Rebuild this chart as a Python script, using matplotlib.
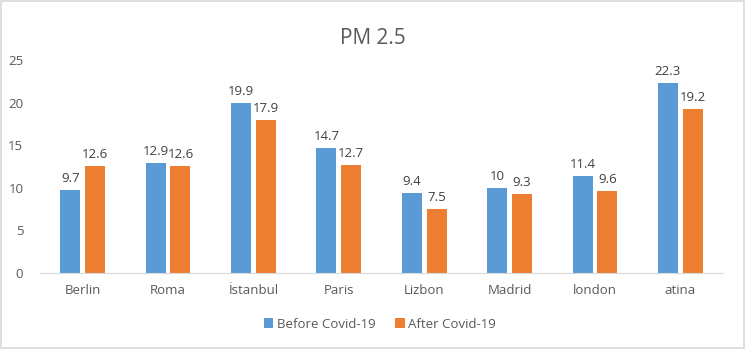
import numpy as np
import matplotlib
matplotlib.use("Agg")
import matplotlib.pyplot as plt

# PM 2.5 levels per city, before and after Covid-19
cities = ["Berlin", "Roma", "İstanbul", "Paris", "Lizbon", "Madrid", "london", "atina"]
before = [9.7, 12.9, 19.9, 14.7, 9.4, 10, 11.4, 22.3]
after = [12.6, 12.6, 17.9, 12.7, 7.5, 9.3, 9.6, 19.2]

plt.rcParams['font.family'] = ['Open Sans', 'DejaVu Sans']
txt = '#595959'
blue = '#5B9BD5'
orange = '#ED7D31'

fig = plt.figure(figsize=(7.45, 3.49), dpi=100)
ax = fig.add_axes([40/745, 1-273/349, 683/745, 213/349])

x = np.arange(len(cities))
w = 0.235
off = 0.145
b1 = ax.bar(x - off, before, w, color=blue, label='Before Covid-19')
b2 = ax.bar(x + off, after, w, color=orange, label='After Covid-19')

for bars, vals in ((b1, before), (b2, after)):
    for r, v in zip(bars, vals):
        ax.text(r.get_x() + r.get_width()/2, v + 0.6, f"{v:g}",
                ha='center', va='bottom', fontsize=9.5, color='#404040')

ax.set_xlim(-0.5, len(cities) - 0.5)
ax.set_ylim(0, 25)
ax.set_yticks(range(0, 26, 5))
ax.set_xticks(x)
ax.set_xticklabels(cities)
ax.tick_params(axis='both', length=0, labelsize=9.5, colors=txt)
ax.tick_params(axis='y', pad=12)
ax.tick_params(axis='x', pad=8)
for s in ['top', 'right', 'left']:
    ax.spines[s].set_visible(False)
ax.spines['bottom'].set_color('#d9d9d9')

fig.text(0.5, 1-38/349, 'PM 2.5', ha='center', va='center', fontsize=15, color=txt)
fig.legend(loc='center', bbox_to_anchor=(0.51, 1-324/349), ncol=2, frameon=False,
           fontsize=9.5, handlelength=0.7, handleheight=0.7, handletextpad=0.3,
           columnspacing=1.5, labelcolor=txt)

# thin gray frame round the figure
fig.patches.append(plt.Rectangle((0.001, 0.002), 0.997, 0.995, transform=fig.transFigure,
                                 fill=False, edgecolor='#d9d9d9', linewidth=1.2))

fig.savefig('out.png', dpi=100)
